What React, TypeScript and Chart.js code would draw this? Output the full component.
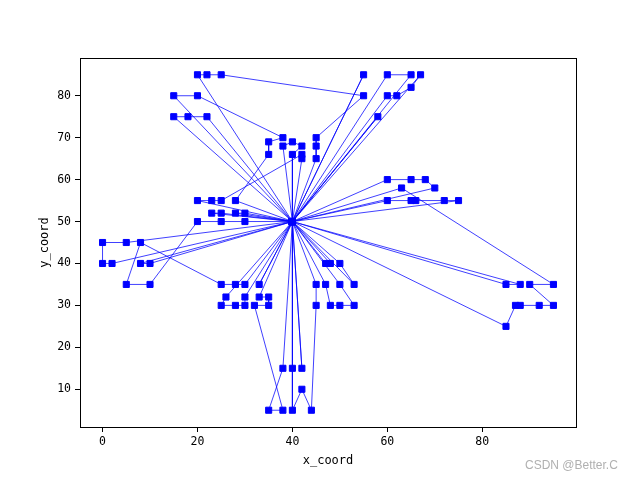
import { useEffect, useRef } from 'react';
import { Chart, registerables } from 'chart.js';
Chart.register(...registerables);

// customer coordinates, index 0 = depot
const custX = [40,
  45, 45, 42, 42, 42, 40, 40, 38, 38, 35, 35, 25, 22, 22, 20, 20, 18, 15, 15,
  30, 30, 28, 28, 25, 25, 25, 23, 23, 20, 20, 10, 10, 8, 8, 5, 5, 2, 0, 0,
  35, 35, 33, 33, 32, 30, 30, 30, 28, 28, 26, 25, 25, 44, 42, 42, 40, 40, 38, 38,
  35, 50, 50, 50, 48, 48, 47, 47, 45, 45, 95, 95, 53, 92, 53, 45, 90, 88, 88, 87,
  85, 85, 75, 72, 70, 68, 66, 65, 65, 63, 60, 60, 67, 65, 65, 62, 60, 60, 58, 55, 55];
const custY = [50,
  68, 70, 66, 68, 65, 69, 66, 68, 70, 66, 69, 85, 75, 85, 80, 85, 75, 75, 80,
  50, 52, 52, 55, 50, 52, 55, 52, 55, 50, 55, 35, 40, 40, 45, 35, 45, 40, 40, 45,
  30, 32, 32, 35, 30, 30, 32, 35, 30, 35, 32, 30, 35, 5, 10, 15, 5, 15, 5, 15,
  5, 30, 35, 40, 30, 40, 35, 40, 30, 35, 30, 35, 30, 30, 35, 65, 35, 30, 35, 30,
  25, 35, 55, 55, 58, 60, 55, 55, 60, 58, 55, 60, 85, 85, 82, 80, 80, 85, 75, 80, 85];

const routes: number[][] = [
  [16, 14, 12, 99, 2, 1, 75],
  [19, 15, 9, 11, 10, 23],
  [18, 17, 13],
  [8, 6, 4, 7],
  [30, 28, 26, 3, 5],
  [25, 27],
  [22, 21],
  [20, 24, 29, 31, 35, 34, 52, 49, 47],
  [37, 38, 39, 36],
  [33, 32],
  [43],
  [50, 51, 48, 45, 46],
  [42, 41, 40, 44, 58, 60, 59],
  [57, 56, 54, 53, 68, 69],
  [55],
  [67, 65],
  [63, 74],
  [66, 64, 61, 72, 62],
  [81, 78],
  [89, 71, 76, 70, 73, 77, 79, 80],
  [91, 88, 85, 84],
  [90, 87, 86, 83, 82],
  [100],
  [97, 93],
  [92, 94, 95, 96],
  [98],
];

const xTicks = [0, 20, 40, 60, 80];
const yTicks = [10, 20, 30, 40, 50, 60, 70, 80];

const framePlugin = {
  id: 'frame',
  afterDraw(chart: any) {
    const { ctx, chartArea: a } = chart;
    ctx.save();
    ctx.strokeStyle = '#000';
    ctx.lineWidth = 1;
    ctx.strokeRect(Math.round(a.left) + 0.5, Math.round(a.top) + 0.5, Math.round(a.right - a.left), Math.round(a.bottom - a.top));
    ctx.fillStyle = '#b0b0b0';
    ctx.font = '12px "Liberation Sans", sans-serif';
    ctx.textBaseline = 'middle';
    ctx.fillText('CSDN @Better.C', 525, 466);
    ctx.restore();
  },
};

export default function App() {
  const ref = useRef<HTMLCanvasElement>(null);
  useEffect(() => {
    const datasets = routes.map((r) => {
      const ids = [0, ...r, 0];
      return {
        data: ids.map((i) => ({ x: custX[i], y: custY[i] })),
        showLine: true,
        borderColor: '#0000ff',
        borderWidth: 0.75,
        backgroundColor: '#0000ff',
        pointBackgroundColor: '#0000ff',
        pointBorderColor: '#0000ff',
        pointBorderWidth: 1,
        pointStyle: 'rect' as const,
        pointRadius: 4.3,
        tension: 0,
      };
    });
    const font = { family: '"DejaVu Sans Mono", monospace', size: 11.5 };
    const chart = new Chart(ref.current!, {
      type: 'scatter',
      data: { datasets },
      plugins: [framePlugin],
      options: {
        responsive: false,
        animation: false,
        events: [],
        layout: { padding: { left: 0, right: 64, top: 58, bottom: 0 } },
        plugins: { legend: { display: false }, tooltip: { enabled: false } },
        scales: {
          x: {
            type: 'linear',
            min: -4.75,
            max: 99.75,
            afterFit: (s: any) => { s.height = 53; },
            afterBuildTicks: (s: any) => { s.ticks = xTicks.map((v) => ({ value: v })); },
            grid: { drawOnChartArea: false, drawTicks: true, tickLength: 5, color: '#000' },
            border: { display: false },
            ticks: { color: '#000', font, padding: 3, maxRotation: 0 },
            title: { display: true, text: 'x_coord', color: '#000', font: { ...font, size: 12 }, padding: { top: 0, bottom: 12 } },
          },
          y: {
            type: 'linear',
            min: 1,
            max: 89,
            afterFit: (s: any) => { s.width = 80; },
            afterBuildTicks: (s: any) => { s.ticks = yTicks.map((v) => ({ value: v })); },
            grid: { drawOnChartArea: false, drawTicks: true, tickLength: 5, color: '#000' },
            border: { display: false },
            ticks: { color: '#000', font, padding: 4 },
            title: { display: true, text: 'y_coord', color: '#000', font: { ...font, size: 12 }, padding: { top: 38, bottom: 0 } },
          },
        },
      },
    });
    return () => chart.destroy();
  }, []);
  return (
    <div style={{ position: 'fixed', left: 0, top: 0, width: 640, height: 480, background: '#fff' }}>
      <canvas ref={ref} width={640} height={480} />
    </div>
  );
}
